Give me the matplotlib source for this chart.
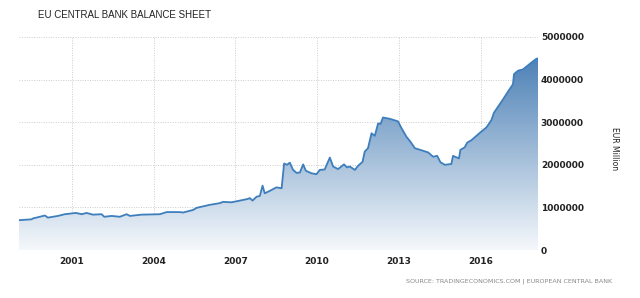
import numpy as np
import matplotlib
matplotlib.use("Agg")
import matplotlib.pyplot as plt
from matplotlib.colors import LinearSegmentedColormap

years = [1999.06, 1999.52, 1999.57, 2000.01, 2000.12, 2000.49, 2000.74, 2001.15, 2001.36, 2001.54,
         2001.77, 2002.09, 2002.19, 2002.46, 2002.76, 2003.01, 2003.13, 2003.56, 2004.23, 2004.48,
         2004.96, 2005.08, 2005.45, 2005.58, 2006.06, 2006.43, 2006.55, 2006.86, 2007.17, 2007.47,
         2007.53, 2007.63, 2007.78, 2007.90, 2008.00, 2008.08, 2008.27, 2008.51, 2008.70, 2008.79,
         2008.90, 2009.00, 2009.12, 2009.25, 2009.37, 2009.49, 2009.59, 2009.80, 2009.98, 2010.10,
         2010.28, 2010.47, 2010.59, 2010.77, 2010.99, 2011.10, 2011.20, 2011.39, 2011.51, 2011.67,
         2011.75, 2011.87, 2012.00, 2012.12, 2012.24, 2012.33, 2012.42, 2012.67, 2012.97, 2013.10,
         2013.28, 2013.43, 2013.59, 2013.89, 2014.08, 2014.26, 2014.41, 2014.53, 2014.69, 2014.93,
         2014.99, 2015.21, 2015.26, 2015.42, 2015.51, 2015.67, 2015.85, 2016.03, 2016.22, 2016.40,
         2016.49, 2016.64, 2016.83, 2017.01, 2017.19, 2017.23, 2017.38, 2017.56, 2017.81, 2018.03,
         2018.11]
values_m = [0.70, 0.72, 0.74, 0.81, 0.76, 0.80, 0.84, 0.87, 0.84, 0.87,
            0.83, 0.84, 0.78, 0.80, 0.78, 0.84, 0.80, 0.83, 0.84, 0.89,
            0.89, 0.88, 0.94, 0.99, 1.06, 1.10, 1.13, 1.12, 1.16, 1.20,
            1.22, 1.16, 1.25, 1.27, 1.51, 1.33, 1.39, 1.47, 1.45, 2.03,
            2.00, 2.05, 1.88, 1.81, 1.82, 2.01, 1.86, 1.80, 1.78, 1.88,
            1.89, 2.17, 1.96, 1.90, 2.01, 1.94, 1.96, 1.88, 1.98, 2.07,
            2.31, 2.39, 2.74, 2.68, 2.97, 2.96, 3.11, 3.08, 3.02, 2.86,
            2.66, 2.54, 2.39, 2.33, 2.29, 2.19, 2.21, 2.06, 2.00, 2.02,
            2.21, 2.15, 2.35, 2.41, 2.52, 2.58, 2.68, 2.78, 2.88, 3.05,
            3.22, 3.36, 3.54, 3.72, 3.89, 4.13, 4.21, 4.24, 4.37, 4.48,
            4.50]
values = [v * 1e6 for v in values_m]

xtick_years = [2001, 2004, 2007, 2010, 2013, 2016]
ytick_vals = [0, 1000000, 2000000, 3000000, 4000000, 5000000]

title = "EU CENTRAL BANK BALANCE SHEET"
ylabel = "EUR Million"
source = "SOURCE: TRADINGECONOMICS.COM | EUROPEAN CENTRAL BANK"

fig = plt.figure(figsize=(6.4, 2.98), dpi=100)
ax = fig.add_axes([19/640, 1-250/298, (538-19)/640, (250-37)/298])

x = np.array(years)
y = np.array(values)
x0, x1 = x[0], x[-1]

cmap = LinearSegmentedColormap.from_list("g", ["#f5f8fb", "#4a7fb5"])
grad = np.linspace(0, 1, 256).reshape(-1, 1)
im = ax.imshow(grad, extent=[x0, x1, 0, 4.6e6], origin="lower", aspect="auto",
               cmap=cmap, zorder=1)
poly = ax.fill_between(x, y, 0, color="none", lw=0)
path = poly.get_paths()[0]
im.set_clip_path(path, transform=ax.transData)
ax.plot(x, y, color="#3d7ebd", lw=1.3, zorder=3, solid_joinstyle="round")

ax.set_xlim(x0, x1)
ax.set_ylim(0, 5e6)
ax.set_xticks(xtick_years)
ax.set_xticklabels([str(v) for v in xtick_years])
ax.set_yticks(ytick_vals)
ax.set_yticklabels([str(v) for v in ytick_vals])
ax.yaxis.tick_right()
ax.tick_params(axis="both", length=0, labelsize=6.5, labelcolor="#222222")
ax.tick_params(axis="y", pad=2)
ax.tick_params(axis="x", pad=5)
for lab in ax.get_xticklabels() + ax.get_yticklabels():
    lab.set_fontweight("bold")
for s in ax.spines.values():
    s.set_visible(False)
ax.grid(True, color="#cccccc", linestyle=(0, (1, 1.5)), lw=0.7, zorder=0)
ax.set_axisbelow(True)

fig.text(38/640, 1-15/298, title, fontsize=7, family="Liberation Sans", color="#222222",
         va="center", ha="left")
fig.text(615/640, 1-149/298, ylabel, fontsize=5.5, color="#222222", rotation=-90,
         va="center", ha="center")
fig.text(612/640, 1-281/298, source, fontsize=4.6, color="#888888", va="center", ha="right")

fig.savefig("out.png", dpi=100)
